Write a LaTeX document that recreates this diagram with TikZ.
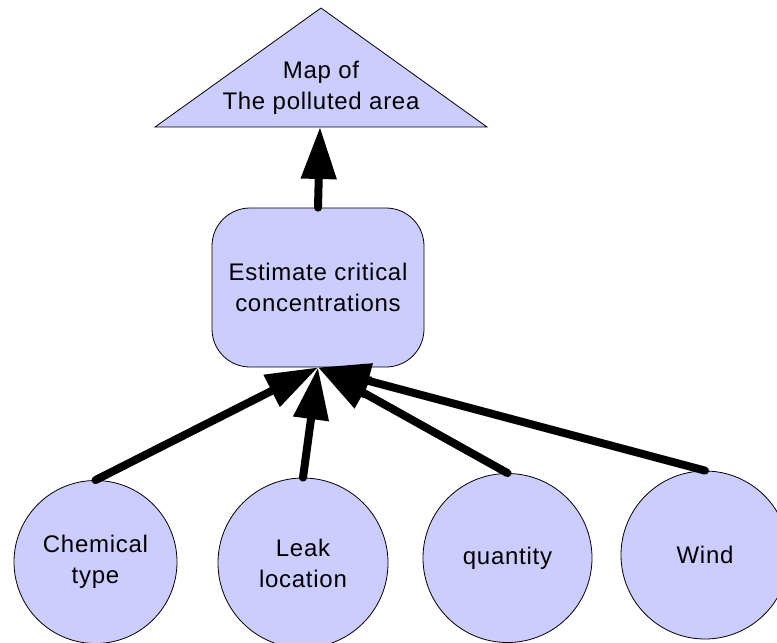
\documentclass[tikz,border=0pt]{standalone}
\usepackage{fontspec}
\setmainfont{Liberation Sans}[LetterSpace=3]
\usetikzlibrary{arrows.meta}
\definecolor{nodefill}{HTML}{CCCCFF}
\begin{document}
\begin{tikzpicture}[x=1bp,y=-1bp,
  shapefill/.style={fill=nodefill,draw=black,line width=0.8bp},
  bubble/.style={shapefill,circle,minimum size=#1,inner sep=0pt},
  labeltext/.style={font=\fontsize{24bp}{31bp}\selectfont,align=center,text=black},
  flow/.style={draw=black,line width=8bp,line cap=round,-{Triangle[width=34bp,length=52bp]}}]
\useasboundingbox (0,0) rectangle (777,643);

% output: map of the polluted area
\coordinate (apex) at (321,8);
\coordinate (tl) at (155,127);
\coordinate (tr) at (487,127);
\coordinate (mapbase) at (320,127);
\filldraw[shapefill] (apex) -- (tl) -- (tr) -- cycle;
\node[labeltext] (map) at (321,88) {Map of\\The polluted area};

% estimation step
\node[shapefill,rounded corners=38bp,minimum width=212bp,minimum height=159bp,labeltext]
  (est) at (318,287.5) {Estimate critical\\concentrations};

% inputs
\node[bubble=163bp,labeltext] (chem) at (95.5,562) {Chemical\\type};
\node[bubble=170bp,labeltext] (leak) at (303,563) {Leak\\location};
\node[bubble=169bp,labeltext] (qty) at (507.5,558) {quantity};
\node[bubble=168bp,labeltext] (wind) at (705,555) {Wind};

% connectors
\draw[flow] (est.north) -- (mapbase);
\draw[flow] (chem.north) -- (est.south);
\draw[flow] (leak.north) -- (est.south);
\draw[flow] (qty.north) -- (est.south);
\draw[flow] (wind.north) -- (est.south);
\end{tikzpicture}
\end{document}
